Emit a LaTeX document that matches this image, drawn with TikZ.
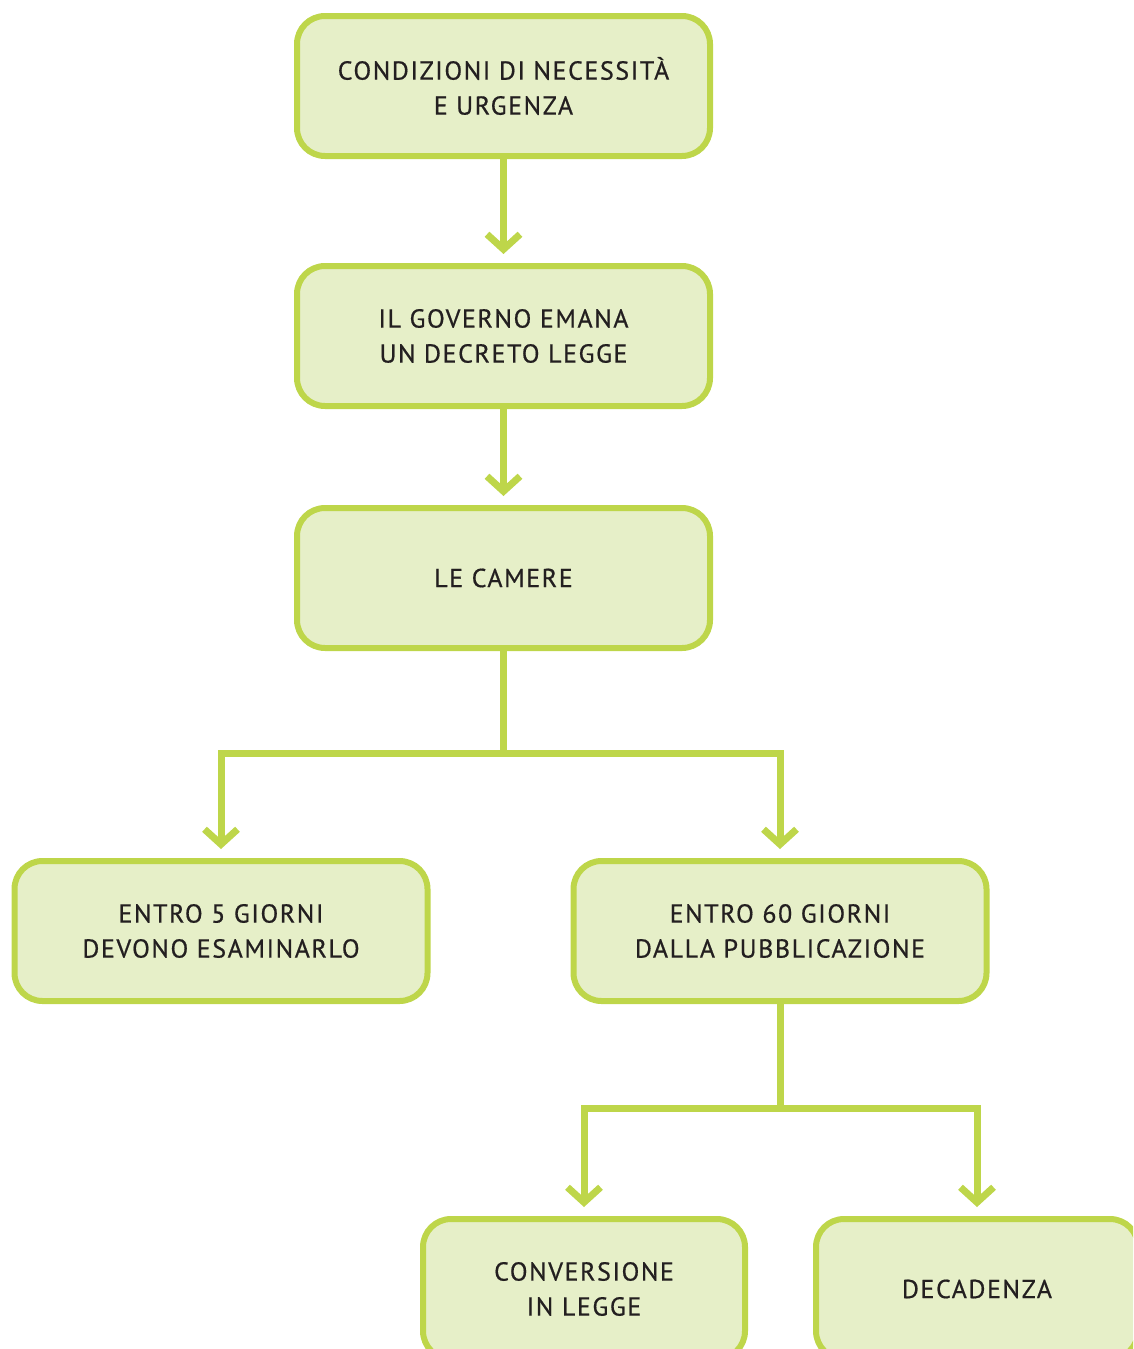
\documentclass[tikz,border=0pt]{standalone}
\usepackage{fontspec}
\setmainfont{PT Sans}[LetterSpace=6,FakeBold=0.6]
\usetikzlibrary{arrows.meta}
\definecolor{gline}{HTML}{BED64A}
\definecolor{gfill}{HTML}{E6EFC8}
\definecolor{gtext}{HTML}{231F20}
\tikzset{
  box/.style={draw=gline, fill=gfill, line width=6pt, rounded corners=28pt,
    minimum width=413pt, minimum height=140pt, align=center, text=gtext,
    font=\fontsize{26}{35}\selectfont, inner sep=0pt},
  smallbox/.style={box, minimum width=322pt},
  conn/.style={draw=gline, line width=7pt, line join=miter},
  arr/.style={conn, -{Straight Barb[length=15pt,width=33pt]}, shorten >=9pt},
}
\begin{document}
\begin{tikzpicture}[x=1pt,y=-1pt]
\useasboundingbox[clip] (0,0) rectangle (1133,1349);
\node[box] (b1) at (503.5,86) {CONDIZIONI DI NECESSITÀ\\E URGENZA};
\node[box] (b2) at (503.5,336) {IL GOVERNO EMANA\\UN DECRETO LEGGE};
\node[box] (b3) at (503.5,578) {LE CAMERE};
\node[box] (b4) at (221,931) {ENTRO 5 GIORNI\\DEVONO ESAMINARLO};
\node[box] (b5) at (780,931) {ENTRO 60 GIORNI\\DALLA PUBBLICAZIONE};
\node[smallbox] (b6) at (584,1289) {CONVERSIONE\\IN LEGGE};
\node[smallbox] (b7) at (977,1289) {DECADENZA};
\coordinate (j1) at (503.5,753);
\coordinate (j2) at (780,1108);
\draw[arr] (b1) -- (b2);
\draw[arr] (b2) -- (b3);
\draw[conn] (b3.south) -- (j1);
\draw[arr] (j1) -| (b4.north);
\draw[arr] (j1) -| (b5.north);
\draw[conn] (b5.south) -- (j2);
\draw[arr] (j2) -| (b6.north);
\draw[arr] (j2) -| (b7.north);
\end{tikzpicture}
\end{document}
